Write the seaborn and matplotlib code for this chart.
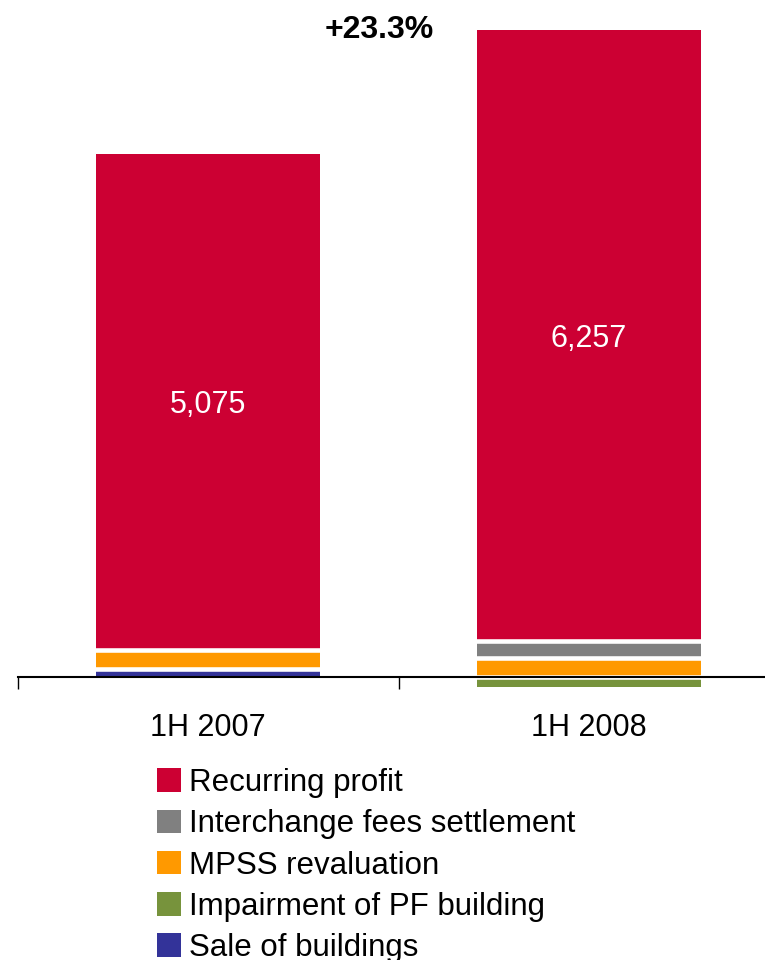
import matplotlib
matplotlib.use("Agg")
import matplotlib.pyplot as plt
from matplotlib.patches import Patch
import numpy as np
import pandas as pd
import seaborn as sns

# Net profit bridge, CZK m
periods = ["1H 2007", "1H 2008"]
recurring_profit = [5075, 6257]
interchange_fees = [0, 170]
mpss_revaluation = [200, 200]
pf_impairment = [0, -100]
sale_of_buildings = [82, 0]
growth_label = "+23.3%"

series_names = ["Recurring profit", "Interchange fees settlement", "MPSS revaluation",
                "Impairment of PF building", "Sale of buildings"]
colors = {
    "Recurring profit": "#CC0033",
    "Interchange fees settlement": "#808080",
    "MPSS revaluation": "#FF9900",
    "Impairment of PF building": "#77933C",
    "Sale of buildings": "#333399",
}

sns.set_theme(style="white")
plt.rcParams["font.family"] = ["Liberation Sans", "DejaVu Sans"]

df = pd.DataFrame({
    "period": periods,
    "Recurring profit": recurring_profit,
    "Interchange fees settlement": interchange_fees,
    "MPSS revaluation": mpss_revaluation,
    "Impairment of PF building": pf_impairment,
    "Sale of buildings": sale_of_buildings,
})

# positive stack from the axis upward
stack_order = ["Sale of buildings", "MPSS revaluation", "Interchange fees settlement", "Recurring profit"]
cum = df[stack_order].clip(lower=0).cumsum(axis=1)

fig = plt.figure(figsize=(7.65, 9.6), dpi=100)
ax = fig.add_axes([0.02288, 0.26417, 0.99608, 0.74521])

bar_width = 0.59
bar_kws = dict(width=bar_width, linewidth=0, saturation=1, ax=ax)
for name in reversed(stack_order):
    sns.barplot(x=df["period"], y=cum[name], color=colors[name], **bar_kws)
sns.barplot(x=df["period"], y=df["Impairment of PF building"],
            color=colors["Impairment of PF building"], **bar_kws)

# thin white separators between stacked segments
for i in range(len(periods)):
    nonzero = [n for n in stack_order if df[n].iloc[i] > 0]
    bounds = [cum[n].iloc[i] for n in nonzero[:-1]]
    if df["Impairment of PF building"].iloc[i] < 0:
        bounds.append(0)
    for b in bounds:
        ax.hlines(b, i - bar_width / 2 - 0.01, i + bar_width / 2 + 0.01,
                  color="white", linewidth=3.3, zorder=3)

ax.set_xlim(-0.5, 1.5)
ax.set_ylim(-300, 7030)
ax.set_xlabel("")
ax.set_ylabel("")
ax.set_yticks([])

for side in ["left", "top", "right"]:
    ax.spines[side].set_visible(False)
ax.spines["bottom"].set_position(("data", 0))
ax.spines["bottom"].set_color("black")
ax.spines["bottom"].set_linewidth(1.5)
ax.spines["bottom"].set_zorder(5)

ax.set_xticks([0, 1])
ax.set_xticklabels(periods, fontsize=22)
ax.tick_params(axis="x", which="major", length=0, pad=26, colors="black")
ax.set_xticks([-0.5, 0.5, 1.5], minor=True)
ax.tick_params(axis="x", which="minor", length=8.6, width=1.0, color="black", direction="out", bottom=True)

# value labels inside the recurring profit segments
for i, val in enumerate(recurring_profit):
    base = cum["Interchange fees settlement"].iloc[i]
    ax.text(i, base + val / 2, f"{val:,}", ha="center", va="center_baseline",
            color="white", fontsize=22, zorder=4)

ax.text(0.449, cum["Recurring profit"].iloc[1], growth_label, ha="center", va="center",
        fontsize=23, fontweight="bold", color="black")

handles = [Patch(facecolor=colors[n], edgecolor="none", label=n) for n in series_names]
fig.legend(handles=handles, loc="upper left", bbox_to_anchor=(157 / 765, 1 - 768 / 960),
           frameon=False, fontsize=22.5, labelcolor="black", handlelength=0.77, handleheight=0.77,
           handletextpad=0.25, labelspacing=0.36, borderpad=0, borderaxespad=0)

fig.savefig("out.png", dpi=100)
